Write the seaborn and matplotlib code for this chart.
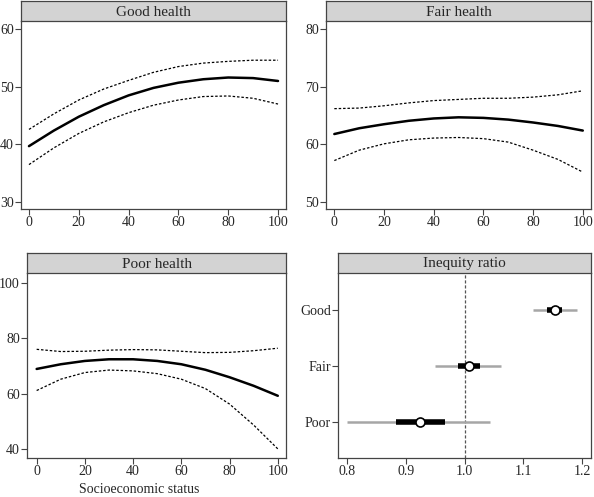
import numpy as np
import pandas as pd
import seaborn as sns
import matplotlib.pyplot as plt

sns.set_theme(style="ticks")
plt.rcParams['font.family'] = ['Liberation Serif', 'DejaVu Serif']

# socioeconomic status grid
ses = [0, 10, 20, 30, 40, 50, 60, 70, 80, 90, 100]

good_fit = [39.7, 42.4, 44.8, 46.8, 48.5, 49.8, 50.7, 51.3, 51.6, 51.5, 51.0]
good_hi = [42.6, 45.3, 47.7, 49.6, 51.1, 52.5, 53.5, 54.1, 54.4, 54.6, 54.6]
good_lo = [36.5, 39.4, 41.9, 43.9, 45.5, 46.8, 47.7, 48.3, 48.4, 48.0, 47.0]

fair_fit = [61.8, 62.8, 63.5, 64.1, 64.5, 64.7, 64.6, 64.3, 63.8, 63.2, 62.4]
fair_hi = [66.2, 66.3, 66.7, 67.2, 67.6, 67.8, 68.0, 68.0, 68.2, 68.6, 69.3]
fair_lo = [57.2, 59.0, 60.1, 60.8, 61.1, 61.2, 61.0, 60.4, 59.0, 57.4, 55.2]

poor_fit = [68.9, 70.6, 71.8, 72.4, 72.4, 71.8, 70.6, 68.6, 65.9, 62.8, 59.2]
poor_hi = [76.0, 75.2, 75.3, 75.7, 75.9, 75.8, 75.3, 74.8, 74.9, 75.5, 76.4]
poor_lo = [61.1, 65.2, 67.6, 68.5, 68.2, 67.2, 65.2, 61.8, 56.2, 48.6, 40.0]

# inequity ratio
groups = ['Good', 'Fair', 'Poor']
ratio = [1.1535, 1.007, 0.924]
inner_lo = [1.140, 0.988, 0.882]
inner_hi = [1.166, 1.026, 0.966]
outer_lo = [1.117, 0.950, 0.799]
outer_hi = [1.192, 1.061, 1.043]

W, H = 594, 497
fig = plt.figure(figsize=(W / 100, H / 100), dpi=100)
frame_col = '#444444'
fs = 10


def panel(px_left, px_right, px_top, px_bottom, strip_top, title):
    ax = fig.add_axes([px_left / W, (H - px_bottom) / H,
                       (px_right - px_left) / W, (px_bottom - px_top) / H])
    st = fig.add_axes([px_left / W, (H - px_top) / H,
                       (px_right - px_left) / W, (px_top - strip_top) / H])
    st.set_facecolor('#d3d3d3')
    st.set_xticks([])
    st.set_yticks([])
    for s in st.spines.values():
        s.set_color(frame_col)
        s.set_linewidth(0.9)
    st.text(0.5, 0.45, title, ha='center', va='center', fontsize=fs + 1,
            transform=st.transAxes)
    for s in ax.spines.values():
        s.set_color(frame_col)
        s.set_linewidth(0.9)
    ax.spines['top'].set_visible(False)
    ax.tick_params(axis='both', direction='out', length=4.2, width=0.8,
                   color=frame_col, labelsize=fs, pad=1)
    return ax


def curves(ax, fit, hi, lo):
    df = pd.DataFrame({'ses': ses, 'fit': fit, 'hi': hi, 'lo': lo})
    sns.lineplot(data=df, x='ses', y='fit', ax=ax, color='black', lw=1.8)
    sns.lineplot(data=df, x='ses', y='hi', ax=ax, color='black', lw=0.9,
                 linestyle=(0, (2, 1.5)))
    sns.lineplot(data=df, x='ses', y='lo', ax=ax, color='black', lw=0.9,
                 linestyle=(0, (2, 1.5)))
    ax.set_xticks([0, 20, 40, 60, 80, 100])
    ax.set_xlabel('')
    ax.set_ylabel('')


ax1 = panel(21, 286, 21, 209, 1, 'Good health')
curves(ax1, good_fit, good_hi, good_lo)
ax1.set_xlim(-3.2, 103.2)
ax1.set_ylim(28.8, 61.4)
ax1.set_yticks([30, 40, 50, 60])

ax2 = panel(326, 591, 21, 209, 1, 'Fair health')
curves(ax2, fair_fit, fair_hi, fair_lo)
ax2.set_xlim(-3.35, 103.3)
ax2.set_ylim(48.8, 81.4)
ax2.set_yticks([50, 60, 70, 80])

ax3 = panel(27, 286, 273, 458, 253, 'Poor health')
curves(ax3, poor_fit, poor_hi, poor_lo)
ax3.set_xlim(-4.0, 103.4)
ax3.set_ylim(36.7, 103.6)
ax3.set_yticks([40, 60, 80, 100])
ax3.set_xlabel('Socioeconomic status', fontsize=fs)
ax3.xaxis.set_label_coords((139.5 - 27) / (286 - 27), -0.135)

ax4 = panel(338, 591, 273, 458, 253, 'Inequity ratio')
ypos = [3, 2, 1]
ax4.axvline(1.0, color='#555555', lw=0.9, ls=(0, (2.5, 1.5)), zorder=1)
ax4.hlines(ypos, outer_lo, outer_hi, color='#a6a6a6', lw=1.8, zorder=2)
ax4.hlines(ypos, inner_lo, inner_hi, color='black', lw=4, zorder=3)
pts = pd.DataFrame({'ratio': ratio, 'y': ypos})
sns.scatterplot(data=pts, x='ratio', y='y', ax=ax4, s=42, color='white',
                edgecolor='black', linewidth=1.2, zorder=4)
ax4.set_xlim(0.784, 1.215)
ax4.set_ylim(0.35, 3.66)
ax4.set_yticks(ypos)
ax4.set_yticklabels(groups)
ax4.set_xticks([0.8, 0.9, 1.0, 1.1, 1.2])
ax4.set_xticklabels(['0.8', '0.9', '1.0', '1.1', '1.2'])
ax4.set_xlabel('')
ax4.set_ylabel('')

fig.savefig('out.png', dpi=100)
